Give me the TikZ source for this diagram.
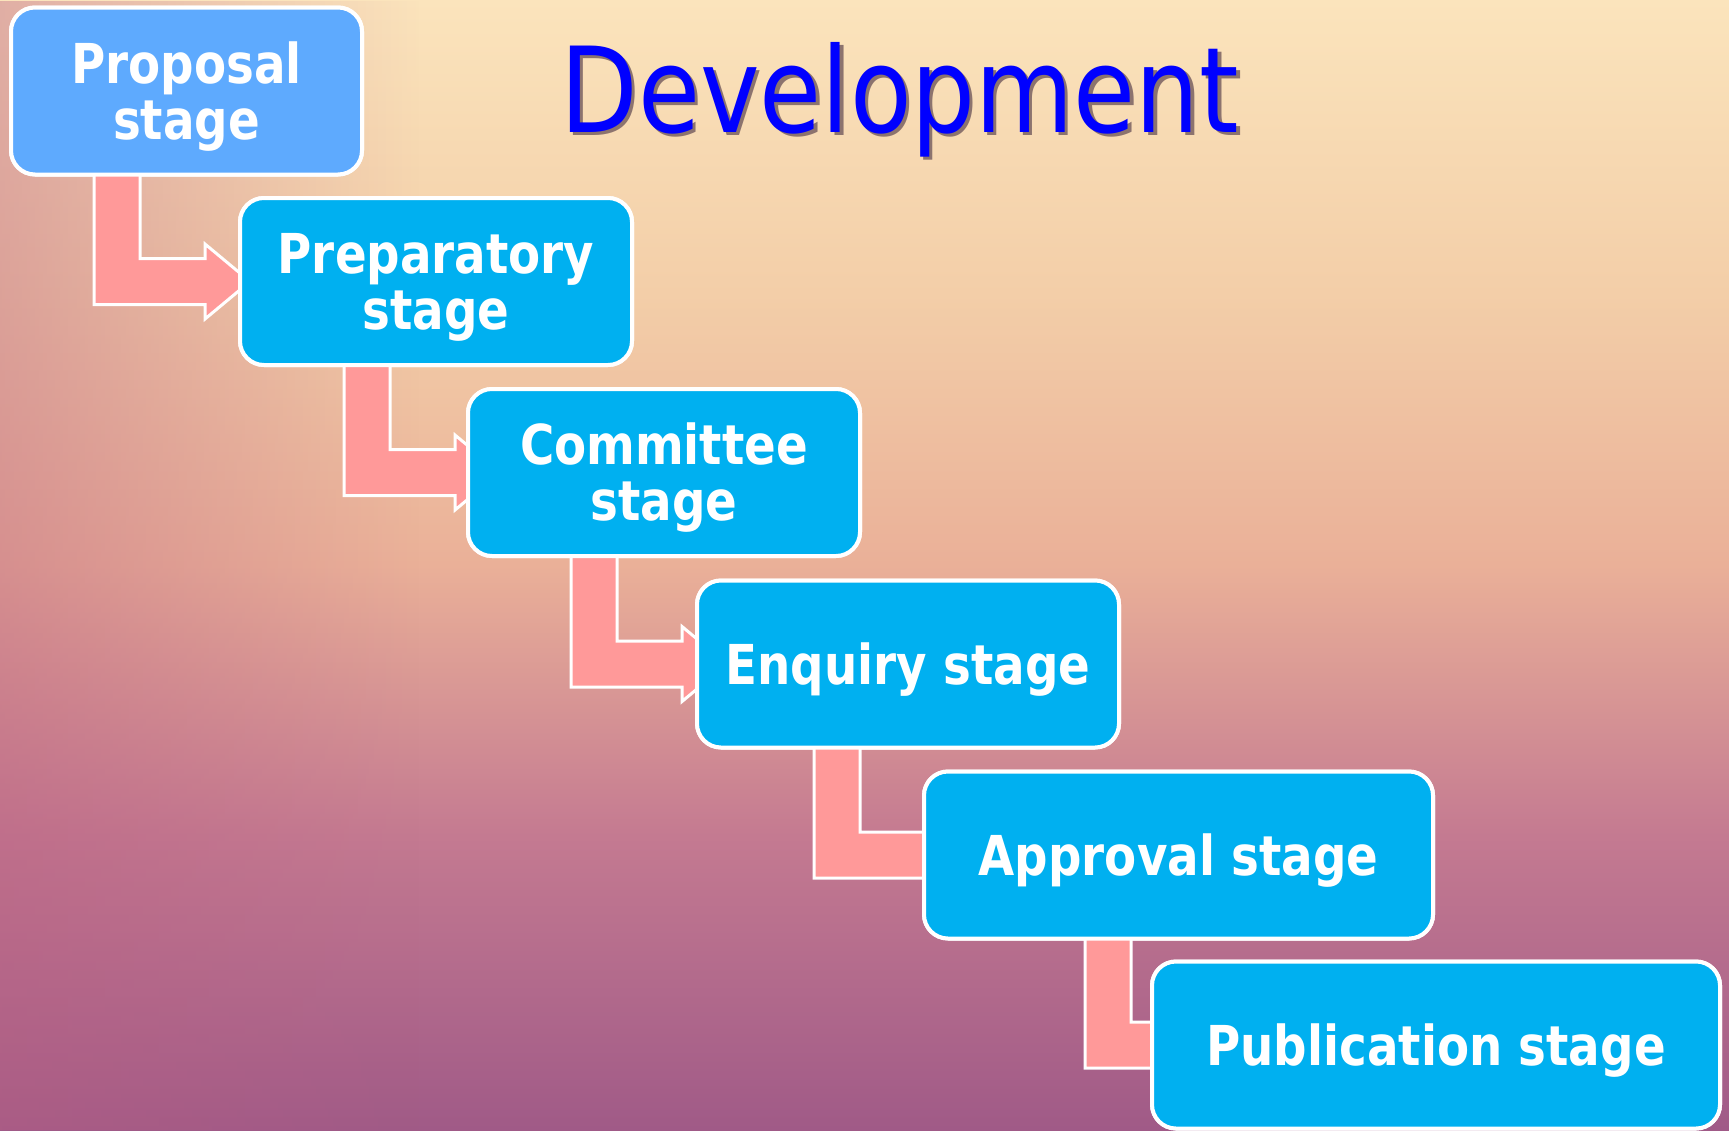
\documentclass[tikz,border=0pt]{standalone}
\usepackage{fontspec}
\usetikzlibrary{calc,fadings}
\newfontfamily\stagefont{DejaVu Sans}[FakeStretch=0.85]
\definecolor{bgtop}{RGB}{251,228,188}
\definecolor{bgupper}{RGB}{243,206,168}
\definecolor{bgmid}{RGB}{234,176,152}
\definecolor{bglow}{RGB}{196,122,145}
\definecolor{bgbot}{RGB}{160,90,135}
\definecolor{leftrose}{RGB}{185,95,130}
\definecolor{propfill}{RGB}{94,170,254}
\definecolor{stagefill}{RGB}{0,176,240}
\definecolor{arrowfill}{RGB}{255,153,153}
\definecolor{titleblue}{RGB}{0,0,255}
\definecolor{titleshadow}{RGB}{140,115,110}
\pgfdeclareverticalshading{bgshade}{100bp}{color(0bp)=(bgbot); color(25bp)=(bgbot); color(38bp)=(bglow); color(50bp)=(bgmid); color(62bp)=(bgupper); color(75bp)=(bgtop); color(100bp)=(bgtop)}
\tikzset{
  stagebox/.style={rectangle, rounded corners=12pt, draw=white, line width=2pt,
    fill=stagefill, text=white, align=center, inner sep=0pt,
    font=\stagefont\bfseries\fontsize{27.5}{28}\selectfont,
    text height=20pt, text depth=0pt, minimum height=83.5pt},
  twoline/.style={text height=48pt},
  flowarrow/.style={fill=arrowfill, draw=white, line width=1.5pt, line join=miter},
  titletext/.style={font=\stagefont\fontsize{59.3}{60}\selectfont, inner sep=0pt, anchor=base, text=titleblue}
}
\newcommand{\shadowed}[1]{\makebox[0pt][l]{\kern1.6pt\raisebox{-1.6pt}{\textcolor{titleshadow}{#1}}}#1}
\begin{document}
\begin{tikzpicture}[x=0.5pt,y=-0.5pt]
\useasboundingbox (0,0) rectangle (1729,1130);
% background
\shade[shading=bgshade] (0,0) rectangle (1729,1130);
\fill[leftrose, path fading=east, opacity=0.4] (0,0) rectangle (420,1130);
% title
\node[titletext] (title) at (900,132) {\shadowed{Development}};
% bar positions
\coordinate (b1) at (94,0);
\coordinate (b2) at (344,0);
\coordinate (b3) at (571,0);
\coordinate (b4) at (814,0);
\coordinate (b5) at (1085,0);
% box frames (named), drawn first
\node[stagebox, fill=propfill, twoline, minimum width=175.5pt] (s1) at (186.5,91) {Proposal\\stage};
\node[stagebox, twoline, minimum width=196pt] (s2) at (436,281.5) {Preparatory\\stage};
\node[stagebox, twoline, minimum width=196pt] (s3) at (664,472.5) {Committee\\stage};
\node[stagebox, minimum width=211pt] (s4) at (908,664) {Enquiry stage};
\node[stagebox, minimum width=254.5pt] (s5) at (1178.5,855) {Approval stage};
\node[stagebox, minimum width=284pt] (s6) at (1436,1045) {Publication stage};
% arrows
\foreach \b/\s/\t in {b1/s1/s2, b2/s2/s3, b3/s3/s4, b4/s4/s5, b5/s5/s6}{
  \draw[flowarrow] ($(\b |- \s.south)+(0,-8)$) -- ($(\b |- \t.west)+(0,23)$) -- ++(111,0) -- ++(0,14.5)
    -- ++(45,-37.5) -- ++(-45,-37.5) -- ++(0,14.5) -- ++(-65,0) -- ($(\b |- \s.south)+(46,-8)$) -- cycle;
}
% boxes again above the arrows
\node[stagebox, fill=propfill, twoline, minimum width=175.5pt] at (s1) {Proposal\\stage};
\node[stagebox, twoline, minimum width=196pt] at (s2) {Preparatory\\stage};
\node[stagebox, twoline, minimum width=196pt] at (s3) {Committee\\stage};
\node[stagebox, minimum width=211pt] at (s4) {Enquiry stage};
\node[stagebox, minimum width=254.5pt] at (s5) {Approval stage};
\node[stagebox, minimum width=284pt] at (s6) {Publication stage};
\end{tikzpicture}
\end{document}
